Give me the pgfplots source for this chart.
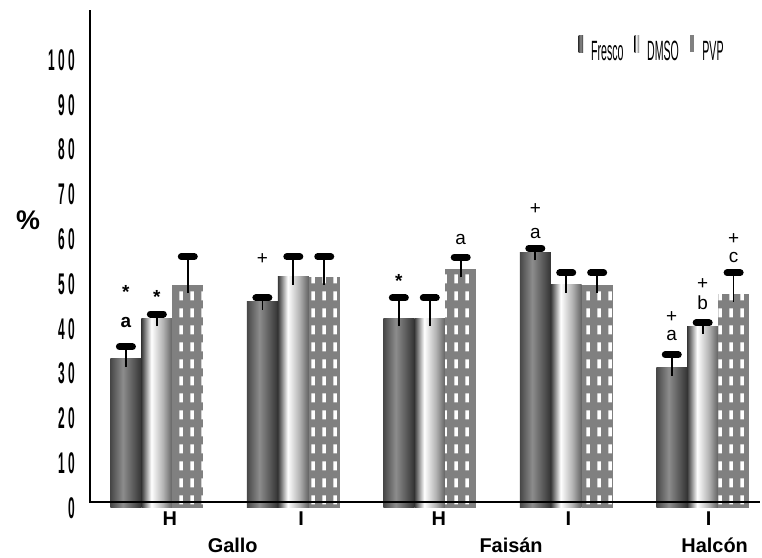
\documentclass[border=0pt]{standalone}
\usepackage{pgfplots}
\pgfplotsset{compat=1.18}
\usepackage{pgfplotstable}
\usepackage{fontspec}
\setmainfont{Liberation Sans}
\newfontfamily\tickfont[FakeStretch=0.40]{Liberation Sans}
\newfontfamily\legfont[FakeStretch=0.38]{Liberation Sans}
\usetikzlibrary{patterns}

\pgfdeclarehorizontalshading{fresco}{100bp}{color(0bp)=(black!72); color(25bp)=(black!72); color(45bp)=(black!45); color(75bp)=(black!80); color(100bp)=(black!80)}
\pgfdeclarehorizontalshading{dmso}{100bp}{color(0bp)=(black!78); color(25bp)=(black!78); color(41bp)=(white); color(60bp)=(black!30); color(75bp)=(black!62); color(100bp)=(black!62)}
\pgfdeclarepatternformonly{vdash}{\pgfqpoint{0bp}{0bp}}{\pgfqpoint{11bp}{16.7bp}}{\pgfqpoint{11bp}{16.7bp}}{\pgfpathrectangle{\pgfqpoint{3.6bp}{3.8bp}}{\pgfqpoint{3.8bp}{9bp}}\pgfusepath{fill}}

\pgfplotstableread{
x y e
0 33.3 2.7
1 46.0 0.9
2 42.4 4.5
3 57.1 0.9
4 31.3 2.9
}\fresco
\pgfplotstableread{
x y e
0 42.4 0.9
1 51.6 4.5
2 42.4 4.5
3 49.8 2.7
4 40.6 0.7
}\dmso
\pgfplotstableread{
x y e
0 49.8 6.3
1 51.6 4.5
2 53.3 2.7
3 49.8 2.7
4 47.8 4.7
}\pvp

\pgfplotsset{
  frescostyle/.style={draw=none, shading=fresco, bar shift=-0.2267},
  dmsostyle/.style={draw=none, shading=dmso, bar shift=0},
  pvpstyle/.style={draw=none, preaction={fill=black!50}, pattern=vdash, pattern color=white, bar shift=0.2267},
}

\begin{document}
\begin{tikzpicture}
\begin{axis}[
  scale only axis, width=670bp, height=498bp,
  xmin=-0.49, xmax=4.42, ymin=0, ymax=111.16,
  axis on top,
  axis lines=left,
  axis line style={-, line width=1.7bp, black},
  y axis line style={shorten <=5bp},
  x axis line style={draw=none},
  clip=false,
  ybar, bar width=0.2267,
  major tick length=0pt,
  ytick={0,10,20,30,40,50,60,70,80,90,100},
  yticklabels={0,1 0,2 0,3 0,4 0,5 0,6 0,7 0,8 0,9 0,1 0 0},
  yticklabel style={inner sep=0pt, anchor=east, xshift=-15bp, font=\tickfont\bfseries\fontsize{30}{30}\selectfont},
  extra y ticks={1.34}, extra y tick labels={},
  extra y tick style={grid=major, major grid style={black, line width=2.4bp}},
  xtick={0.095,1.058,2.066,3.015,4.044},
  xticklabels={H,I,H,I,I},
  xticklabel style={inner sep=0pt, anchor=north, yshift=-4bp, font=\bfseries\fontsize{20}{20}\selectfont},
  error bars/y dir=plus, error bars/y explicit,
  error bars/error mark=|,
  error bars/error mark options={black, line width=7bp, mark size=6.5bp, line cap=round},
  error bars/error bar style={black, line width=1.7bp, shorten <=-8bp},
  legend image code/.code={\fill[#1] (0bp,-0.5bp) rectangle (4.5bp,16.5bp);},
  legend style={draw=none, fill=none, inner sep=0pt, legend columns=3,
    at={(0.946,0.922)}, anchor=east,
    font=\legfont\fontsize{28}{28}\selectfont,
    nodes={inner sep=0pt},
    /tikz/every odd column/.append style={column sep=8bp},
    /tikz/every even column/.append style={column sep=11bp}},
]
\addplot[frescostyle, restrict x to domain=-0.1:0.1] table[x=x, y=y, y error=e] {\fresco};
\addlegendentry{Fresco}
\addplot[dmsostyle, restrict x to domain=-0.1:0.1] table[x=x, y=y, y error=e] {\dmso};
\addlegendentry{DMSO}
\addplot[pvpstyle, restrict x to domain=-0.1:0.1] table[x=x, y=y, y error=e] {\pvp};
\addlegendentry{PVP}
\addplot[frescostyle, forget plot, restrict x to domain=0.9:1.1] table[x=x, y=y, y error=e] {\fresco};
\addplot[dmsostyle, forget plot, restrict x to domain=0.9:1.1] table[x=x, y=y, y error=e] {\dmso};
\addplot[pvpstyle, forget plot, restrict x to domain=0.9:1.1] table[x=x, y=y, y error=e] {\pvp};
\addplot[frescostyle, forget plot, restrict x to domain=1.9:2.1] table[x=x, y=y, y error=e] {\fresco};
\addplot[dmsostyle, forget plot, restrict x to domain=1.9:2.1] table[x=x, y=y, y error=e] {\dmso};
\addplot[pvpstyle, forget plot, restrict x to domain=1.9:2.1] table[x=x, y=y, y error=e] {\pvp};
\addplot[frescostyle, forget plot, restrict x to domain=2.9:3.1] table[x=x, y=y, y error=e] {\fresco};
\addplot[dmsostyle, forget plot, restrict x to domain=2.9:3.1] table[x=x, y=y, y error=e] {\dmso};
\addplot[pvpstyle, forget plot, restrict x to domain=2.9:3.1] table[x=x, y=y, y error=e] {\pvp};
\addplot[frescostyle, forget plot, restrict x to domain=3.9:4.1] table[x=x, y=y, y error=e] {\fresco};
\addplot[dmsostyle, forget plot, restrict x to domain=3.9:4.1] table[x=x, y=y, y error=e] {\dmso};
\addplot[pvpstyle, forget plot, restrict x to domain=3.9:4.1] table[x=x, y=y, y error=e] {\pvp};

\tikzset{ann/.style={font=\fontsize{19}{19}\selectfont, inner sep=0pt, anchor=center},
  annb/.style={font=\bfseries\fontsize{19}{19}\selectfont, inner sep=0pt, anchor=center}}
% Gallo H
\node[annb] at (axis cs:-0.2267,41.5) {a};
\node[annb] at (axis cs:-0.2267,48.2) {*};
\node[annb] at (axis cs:0,47.0) {*};
% Gallo I
\node[ann] at (axis cs:0.7733,55.6) {+};
% Faisan H
\node[annb] at (axis cs:1.7733,50.7) {*};
\node[ann] at (axis cs:2.2267,60.0) {a};
% Faisan I
\node[ann] at (axis cs:2.7733,66.7) {+};
\node[ann] at (axis cs:2.7733,61.3) {a};
% Halcon I
\node[ann] at (axis cs:3.7733,42.7) {+};
\node[ann] at (axis cs:3.7733,38.6) {a};
\node[ann] at (axis cs:4,50.0) {+};
\node[ann] at (axis cs:4,45.8) {b};
\node[ann] at (axis cs:4.2267,60.0) {+};
\node[ann] at (axis cs:4.2267,55.9) {c};

% group names
\node[font=\bfseries\fontsize{20}{20}\selectfont, inner sep=0pt] at (axis cs:0.556,-8.26) {Gallo};
\node[font=\bfseries\fontsize{20}{20}\selectfont, inner sep=0pt] at (axis cs:2.596,-8.26) {Faisán};
\node[font=\bfseries\fontsize{20}{20}\selectfont, inner sep=0pt] at (axis cs:4.088,-8.26) {Halcón};
% percent label
\node[font=\bfseries\fontsize{27}{27}\selectfont, inner sep=0pt] at (axis cs:-0.944,64.3) {\%};
\end{axis}
\pgfresetboundingbox
\path (current axis.south west) ++(-90bp,-50bp) rectangle ++(762bp,558bp);
\end{tikzpicture}
\end{document}
